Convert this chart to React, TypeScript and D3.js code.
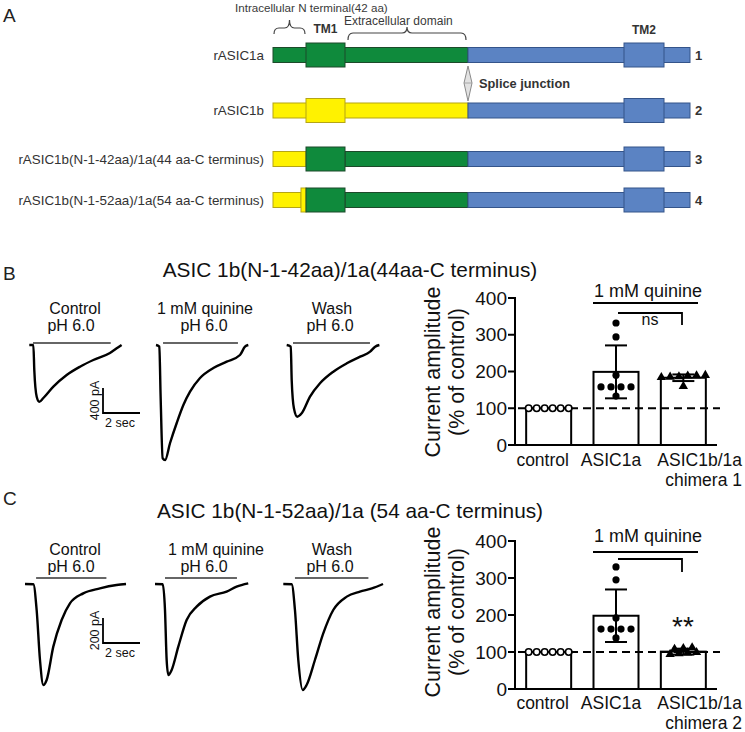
import React from 'react';
import * as d3 from 'd3';

const FONT = "'Liberation Sans', Arial, Helvetica, sans-serif";

// ---------- Panel A data ----------
const constructNames = [
  'rASIC1a',
  'rASIC1b',
  'rASIC1b(N-1-42aa)/1a(44 aa-C terminus)',
  'rASIC1b(N-1-52aa)/1a(54 aa-C terminus)',
];
const constructNumbers = ['1', '2', '3', '4'];
// segments in schematic units: [start, end, kind, colour]
const constructSegments: [number, number, string, string][][] = [
  [[0, 195, 'thin', 'green'], [195, 417, 'thin', 'blue'], [33, 72, 'tm', 'green'], [351, 391, 'tm', 'blue']],
  [[0, 195, 'thin', 'yellow'], [195, 417, 'thin', 'blue'], [33, 72, 'tm', 'yellow'], [351, 391, 'tm', 'blue']],
  [[0, 33, 'thin', 'yellow'], [72, 195, 'thin', 'green'], [195, 417, 'thin', 'blue'], [33, 72, 'tm', 'green'], [351, 391, 'tm', 'blue']],
  [[0, 28, 'thin', 'yellow'], [72, 195, 'thin', 'green'], [195, 417, 'thin', 'blue'], [28, 33, 'tm', 'yellow'], [33, 72, 'tm', 'green'], [351, 391, 'tm', 'blue']],
];
const spliceJunction = 195;
const nTermBrace = [0, 33];
const extraBrace = [72, 195];

// ---------- Bar chart data ----------
const barCategories = ['control', 'ASIC1a', 'ASIC1b/1a'];
const chimeraNames = ['chimera 1', 'chimera 2'];
const yTicks = [0, 100, 200, 300, 400];

const bMeans = [100, 199, 183];
const bSD = [0, 72, 9];
const bControlPts = [100, 100, 100, 100, 100, 100];
const bAsic1aPts = [332, 294, 190, 158, 158, 158, 158, 133];
const bChimeraPts = [190, 188, 186, 185, 184, 189, 160];

const cMeans = [100, 198, 101];
const cSD = [0, 71, 8];
const cControlPts = [100, 100, 100, 100, 100, 100];
const cAsic1aPts = [330, 295, 192, 162, 162, 162, 162, 138];
const cChimeraPts = [112, 110, 108, 98, 96, 94, 99];

// ---------- Current traces (time s, current pA) ----------
const bControlTrace = [[0, 0], [0.22, 0], [0.27, -400], [0.4, -827], [0.54, -907], [0.76, -848], [1.3, -667], [2.02, -480], [2.74, -347], [3.46, -240], [4.36, -128], [4.79, -40], [4.99, 0]];
const bQuinineTrace = [[0, 0], [0.18, -27], [0.25, -827], [0.36, -1813], [0.49, -1840], [0.76, -1568], [1.12, -1248], [1.48, -960], [1.84, -747], [2.38, -528], [3.1, -368], [3.82, -267], [4.54, -160], [4.81, -27], [4.99, 0]];
const bWashTrace = [[0, 0], [0.22, -27], [0.27, -560], [0.39, -1013], [0.57, -1147], [0.81, -1093], [1.26, -827], [1.8, -613], [2.52, -427], [3.25, -293], [3.97, -187], [4.51, -107], [4.78, -27], [5.01, 0]];

const cControlTrace = [[0, 0], [0.45, -2], [0.63, -208], [0.81, -608], [0.99, -808], [1.17, -768], [1.53, -501], [1.98, -288], [2.43, -155], [3.15, -75], [4.05, -35], [4.95, -8], [5.46, 0]];
const cQuinineTrace = [[0, 0], [0.42, -2], [0.54, -208], [0.63, -608], [0.72, -728], [0.9, -688], [1.26, -501], [1.71, -288], [2.25, -181], [2.97, -101], [3.87, -61], [4.41, -21], [5.04, 5]];
const cWashTrace = [[0, 0], [0.45, -2], [0.63, -208], [0.81, -608], [1.05, -848], [1.26, -808], [1.71, -608], [2.16, -395], [2.7, -208], [3.43, -101], [4.14, -61], [4.79, -35], [5.39, 0]];

const traceLabels = ['Control', '1 mM quinine', 'Wash'];
const phLabel = 'pH 6.0';
const bStim = [[0.2, 4.4], [0.38, 4.43], [0.34, 4.5]];
const cStim = [[0.6, 4.4], [0.54, 4.43], [0.63, 4.6]];

const COLORS: Record<string, [string, string]> = {
  green: ['#0f8a3c', '#1d4a2a'],
  yellow: ['#fff200', '#b5a515'],
  blue: ['#5b83c3', '#34548a'],
};

function swarm(vals: number[], tol: number, spacing: number) {
  const idx = vals.map((_, i) => i).sort((a, b) => vals[a] - vals[b]);
  const off = new Array(vals.length).fill(0);
  let g: number[] = [];
  const flush = () => {
    g.forEach((k, j) => (off[k] = (j - (g.length - 1) / 2) * spacing));
    g = [];
  };
  idx.forEach((k) => {
    if (g.length && vals[k] - vals[g[0]] > tol) flush();
    g.push(k);
  });
  flush();
  return off;
}

function bracePath(x1: number, x2: number, yEnd: number, yFlat: number, yTip: number) {
  const m = (x1 + x2) / 2;
  const r = Math.min(5, (x2 - x1) / 6);
  return `M${x1},${yEnd} Q${x1},${yFlat} ${x1 + r},${yFlat} L${m - r},${yFlat} Q${m},${yFlat} ${m},${yTip} Q${m},${yFlat} ${m + r},${yFlat} L${x2 - r},${yFlat} Q${x2},${yFlat} ${x2},${yEnd}`;
}

function PanelA() {
  const x = d3.scaleLinear().domain([0, 417]).range([273, 690]);
  const rowY = [55, 110.5, 159, 200];
  const thinH = 15;
  const tmH = 24;
  return (
    <g fontFamily={FONT}>
      <text x={3} y={22} fontSize={19} fill="#222">A</text>
      <text x={235} y={11.5} fontSize={11.6} fill="#3a3a3a">Intracellular N terminal(42 aa)</text>
      <text x={344} y={24.5} fontSize={12} fill="#3a3a3a">Extracellular domain</text>
      <path d={bracePath(x(nTermBrace[0]) + 1, x(nTermBrace[1]) - 1, 34, 28, 20)} fill="none" stroke="#444" strokeWidth={1.2} />
      <path d={bracePath(x(extraBrace[0]) + 3, x(extraBrace[1]) - 2, 40, 33, 27)} fill="none" stroke="#444" strokeWidth={1.2} />
      <text x={x(52.5)} y={33} fontSize={12} fontWeight="bold" textAnchor="middle" fill="#333">TM1</text>
      <text x={x(371)} y={34} fontSize={12} fontWeight="bold" textAnchor="middle" fill="#333">TM2</text>
      {constructSegments.map((segs, r) => (
        <g key={r}>
          {segs.map((s, i) => {
            const h = s[2] === 'tm' ? tmH : thinH;
            return (
              <rect key={i} x={x(s[0])} y={rowY[r] - h / 2} width={x(s[1]) - x(s[0])} height={h}
                fill={COLORS[s[3]][0]} stroke={COLORS[s[3]][1]} strokeWidth={1} />
            );
          })}
          <text x={264} y={rowY[r] + 4.6} fontSize={13.4} textAnchor="end" fill="#333">{constructNames[r]}</text>
          <text x={695} y={rowY[r] + 4.6} fontSize={13} fontWeight="bold" fill="#333">{constructNumbers[r]}</text>
        </g>
      ))}
      <polygon
        points={`${x(spliceJunction)},${66} ${x(spliceJunction) + 4},${83} ${x(spliceJunction)},${101} ${x(spliceJunction) - 4},${83}`}
        fill="#e2e2e2" stroke="#8a8a8a" strokeWidth={1} />
      <line x1={x(spliceJunction) - 4} x2={x(spliceJunction) + 4} y1={83} y2={83} stroke="#9a9a9a" strokeWidth={0.8} />
      <text x={479} y={88} fontSize={12.8} fontWeight="bold" fill="#333">Splice junction</text>
    </g>
  );
}

type TraceProps = {
  letter: string; letterY: number; title: string; titleY: number;
  traces: number[][][]; origins: [number, number][]; stim: number[][]; stimOffset: number;
  pxPerPA: number; scaleBarPA: number; scaleBarOrigin: [number, number];
  labelY: [number, number]; labelX: number[]; phX: number[];
};

function TracePanel(p: TraceProps) {
  const line = d3.line<number[]>().curve(d3.curveMonotoneX);
  return (
    <g fontFamily={FONT}>
      <text x={3} y={p.letterY} fontSize={19} fill="#222">{p.letter}</text>
      <text x={350} y={p.titleY} fontSize={20.8} textAnchor="middle" fill="#111">{p.title}</text>
      {p.traces.map((tr, i) => {
        const [x0, y0] = p.origins[i];
        const xs = d3.scaleLinear().domain([0, 2]).range([x0, x0 + 37]);
        const ys = d3.scaleLinear().domain([0, -400]).range([y0, y0 + 400 * p.pxPerPA]);
        const pts = tr.map((d) => [xs(d[0]), ys(d[1])]);
        return (
          <g key={i}>
            <path d={line(pts) || ''} fill="none" stroke="#000" strokeWidth={2.4} strokeLinejoin="round" />
            <line x1={xs(p.stim[i][0])} x2={xs(p.stim[i][1])} y1={y0 - p.stimOffset} y2={y0 - p.stimOffset} stroke="#333" strokeWidth={1.4} />
            <text x={p.labelX[i]} y={p.labelY[0]} fontSize={16} textAnchor="middle" fill="#111">{traceLabels[i]}</text>
            <text x={p.phX[i]} y={p.labelY[1]} fontSize={16} textAnchor="middle" fill="#111">{phLabel}</text>
          </g>
        );
      })}
      {(() => {
        const [sx, sy] = p.scaleBarOrigin;
        const xs = d3.scaleLinear().domain([0, 2]).range([sx, sx + 37]);
        const ys = d3.scaleLinear().domain([0, p.scaleBarPA]).range([sy, sy - p.scaleBarPA * p.pxPerPA]);
        return (
          <g>
            <path d={`M${xs(0)},${ys(p.scaleBarPA)} L${xs(0)},${ys(0)} L${xs(2)},${ys(0)}`} fill="none" stroke="#000" strokeWidth={1.8} />
            <text transform={`translate(${xs(0) - 4},${(ys(0) + ys(p.scaleBarPA)) / 2}) rotate(-90)`} fontSize={12.5} textAnchor="middle" fill="#111">{`${p.scaleBarPA} pA`}</text>
            <text x={xs(0) + 2} y={ys(0) + 14} fontSize={12.5} fill="#111">2 sec</text>
          </g>
        );
      })()}
    </g>
  );
}

type BarProps = {
  y0: number; y400: number; means: number[]; sds: number[];
  pts: number[][]; chimera: string; labelY: [number, number];
  quinineY: number; quinineLineY: number; bracketY: [number, number];
  sigText: string; sigY: number; sigSize: number; ylabelY: number;
};

function BarPanel(p: BarProps) {
  const y = d3.scaleLinear().domain([0, 400]).range([p.y0, p.y400]);
  const x = d3.scalePoint<string>().domain(barCategories).range([515, 717]).padding(0.5);
  const bw = 45;
  const axisX = 515;
  const tri = d3.symbol().type(d3.symbolTriangle).size(38)() || '';
  return (
    <g fontFamily={FONT} fill="#111">
      {barCategories.map((c, i) => (
        <rect key={c} x={x(c)! - bw / 2} y={y(p.means[i])} width={bw} height={y(0) - y(p.means[i])}
          fill="#fff" stroke="#000" strokeWidth={2} />
      ))}
      <line x1={518} x2={720} y1={y(100)} y2={y(100)} stroke="#000" strokeWidth={2} strokeDasharray="8,5" />
      {barCategories.map((c, i) => p.sds[i] > 0 && (
        <g key={c} stroke="#000" strokeWidth={2}>
          <line x1={x(c)} x2={x(c)} y1={y(p.means[i] + p.sds[i])} y2={y(p.means[i] - p.sds[i])} />
          <line x1={x(c)! - 11} x2={x(c)! + 11} y1={y(p.means[i] + p.sds[i])} y2={y(p.means[i] + p.sds[i])} />
          <line x1={x(c)! - 11} x2={x(c)! + 11} y1={y(p.means[i] - p.sds[i])} y2={y(p.means[i] - p.sds[i])} />
        </g>
      ))}
      {p.pts.map((vals, i) => {
        const off = swarm(vals, 8, i === 2 ? 8.8 : i === 0 ? 8 : 10);
        return vals.map((v, k) => {
          const cx = x(barCategories[i])! + off[k];
          const cy = y(v);
          if (i === 0) return <circle key={k} cx={cx} cy={cy} r={3.2} fill="#fff" stroke="#000" strokeWidth={1.6} />;
          if (i === 1) return <circle key={k} cx={cx} cy={cy} r={3.6} fill="#000" />;
          return <path key={k} d={tri} transform={`translate(${cx},${cy})`} fill="#000" />;
        });
      })}
      <line x1={axisX} x2={axisX} y1={y(400) - 1} y2={y(0)} stroke="#000" strokeWidth={2} />
      <line x1={axisX} x2={717} y1={y(0)} y2={y(0)} stroke="#000" strokeWidth={2} />
      {yTicks.map((t) => (
        <g key={t}>
          <line x1={axisX - 7} x2={axisX} y1={y(t)} y2={y(t)} stroke="#000" strokeWidth={2} />
          <text x={axisX - 8} y={y(t)} dy="0.35em" fontSize={19} textAnchor="end">{t}</text>
        </g>
      ))}
      <text x={x(barCategories[0])! - 6} y={p.labelY[0]} fontSize={17.5} textAnchor="middle">{barCategories[0]}</text>
      <text x={x(barCategories[1])! - 5} y={p.labelY[0]} fontSize={17.5} textAnchor="middle">{barCategories[1]}</text>
      <text x={742} y={p.labelY[0]} fontSize={17.5} textAnchor="end">{barCategories[2]}</text>
      <text x={742} y={p.labelY[1]} fontSize={17.5} textAnchor="end">{p.chimera}</text>
      <text transform={`translate(440,${p.ylabelY}) rotate(-90)`} fontSize={21.5} textAnchor="middle">Current amplitude</text>
      <text transform={`translate(464,${p.ylabelY}) rotate(-90)`} fontSize={21.5} textAnchor="middle">(% of control)</text>
      <text x={648} y={p.quinineY} fontSize={18} textAnchor="middle">1 mM quinine</text>
      <line x1={593} x2={698} y1={p.quinineLineY} y2={p.quinineLineY} stroke="#000" strokeWidth={1.8} />
      <path d={`M618,${p.bracketY[0]} L682,${p.bracketY[0]} L682,${p.bracketY[1]}`} fill="none" stroke="#000" strokeWidth={1.8} />
      <text x={p.sigText === 'ns' ? 650 : 683} y={p.sigY} fontSize={p.sigSize} textAnchor="middle">{p.sigText}</text>
    </g>
  );
}

export default function App() {
  return (
    <svg width={745} height={732} viewBox="0 0 745 732"
      style={{ position: 'absolute', left: 0, top: 0, display: 'block', background: '#fff' }}>
      <rect x={0} y={0} width={745} height={732} fill="#fff" />
      <PanelA />
      <TracePanel letter="B" letterY={280} title="ASIC 1b(N-1-42aa)/1a(44aa-C terminus)" titleY={277}
        traces={[bControlTrace, bQuinineTrace, bWashTrace]}
        origins={[[29.3, 345], [156, 345], [286.7, 345]]} stim={bStim} stimOffset={2}
        pxPerPA={0.0625} scaleBarPA={400} scaleBarOrigin={[103, 413]}
        labelY={[314, 331]} labelX={[75, 205, 332]} phX={[71, 204, 330]} />
      <TracePanel letter="C" letterY={505} title="ASIC 1b(N-1-52aa)/1a (54 aa-C terminus)" titleY={518}
        traces={[cControlTrace, cQuinineTrace, cWashTrace]}
        origins={[[25, 584], [155, 584], [283.3, 584]]} stim={cStim} stimOffset={6}
        pxPerPA={0.125} scaleBarPA={200} scaleBarOrigin={[103, 643]}
        labelY={[555, 572]} labelX={[75, 216, 332]} phX={[71, 204, 330]} />
      <BarPanel y0={445} y400={298} means={bMeans} sds={bSD} pts={[bControlPts, bAsic1aPts, bChimeraPts]}
        chimera={chimeraNames[0]} labelY={[466, 486]} quinineY={297} quinineLineY={303}
        bracketY={[313, 325]} sigText="ns" sigY={325} sigSize={16} ylabelY={372} />
      <BarPanel y0={689} y400={541} means={cMeans} sds={cSD} pts={[cControlPts, cAsic1aPts, cChimeraPts]}
        chimera={chimeraNames[1]} labelY={[709, 729]} quinineY={542} quinineLineY={552}
        bracketY={[559, 572]} sigText="**" sigY={636} sigSize={28} ylabelY={612} />
    </svg>
  );
}
